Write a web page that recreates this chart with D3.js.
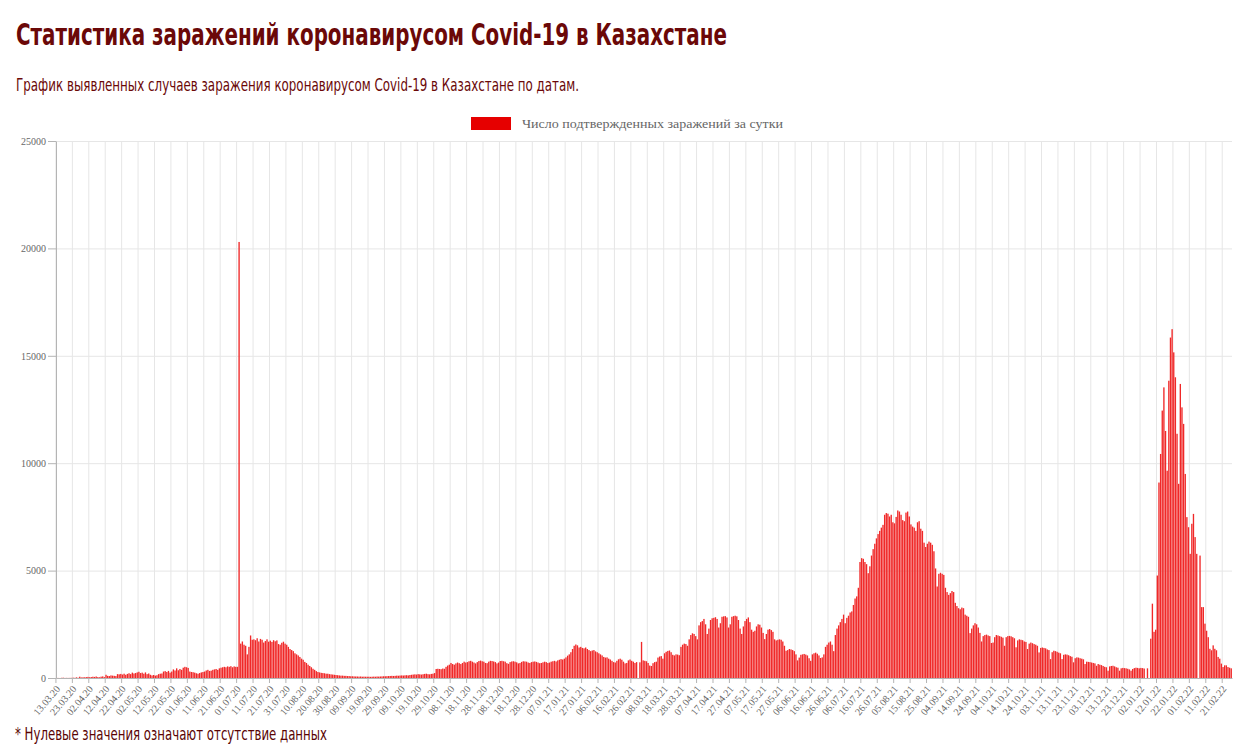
<!DOCTYPE html>
<html lang="ru">
<head>
<meta charset="utf-8">
<title>Статистика заражений коронавирусом Covid-19 в Казахстане</title>
<style>
body {
  margin: 0;
  overflow: hidden;
  background: #fff;
}
.axis text {
  font-family: "Liberation Serif", "Times New Roman", serif;
  font-size: 10px;
  fill: #666;
}
.axis .domain { stroke: #b4b4b4; }
.axis .tick line { stroke: #b4b4b4; }
.grid .tick line { stroke: #e6e6e6; }
.grid .domain { display: none; }
</style>
<script src="https://d3js.org/d3.v7.min.js"></script>
</head>
<body>
<svg id="chart"></svg>
<script>
var startDate = "13.03.20";

// daily confirmed cases, 13.03.20 - 31.12.20
var cases2020 = [
  6, 3, 1, 9, 13, 4, 6, 4, 7, 7,
  16, 8, 30, 10, 60, 25, 35, 32, 40, 52,
  35, 44, 60, 50, 70, 42, 35, 62, 75, 40,
  150, 100, 90, 120, 110, 100, 90, 180, 170, 190,
  160, 200, 150, 190, 220, 180, 250, 210, 230, 260,
  290, 230, 250, 200, 260, 180, 210, 150, 120, 140,
  110, 130, 180, 200, 210, 300, 320, 280, 330, 250,
  300, 400, 350, 450, 360, 420, 380, 480, 520, 500,
  470, 300, 280, 270, 250, 220, 200, 230, 260, 280,
  300, 350, 380, 330, 340, 380, 400, 420, 380, 450,
  480, 500, 520, 500, 540, 520, 550, 500, 540, 520,
  520, 20300, 1600, 1700, 1550, 1500, 1100, 1450, 1980, 1780,
  1800, 1760, 1850, 1700, 1820, 1780, 1650, 1720, 1800, 1690,
  1740, 1680, 1760, 1710, 1750, 1580, 1550, 1640, 1690, 1600,
  1550, 1450, 1350, 1300, 1250, 1150, 1100, 1050, 980, 900,
  850, 750, 700, 620, 560, 500, 430, 380, 320, 280,
  260, 240, 230, 220, 200, 200, 180, 170, 160, 150,
  140, 130, 120, 110, 110, 100, 100, 90, 90, 80,
  80, 75, 70, 70, 65, 70, 60, 65, 60, 60,
  60, 55, 60, 65, 60, 70, 65, 70, 75, 80,
  80, 85, 90, 95, 100, 95, 100, 110, 105, 115,
  120, 115, 125, 130, 120, 140, 150, 160, 170, 160,
  180, 170, 160, 175, 190, 200, 180, 170, 190, 200,
  230, 420, 430, 420, 410, 440, 430, 520, 580, 620,
  700, 650, 620, 680, 720, 690, 650, 700, 760, 720,
  740, 780, 800, 760, 720, 680, 740, 790, 810, 780,
  760, 700, 690, 760, 800, 790, 770, 740, 680, 720,
  790, 800, 780, 760, 690, 660, 740, 770, 780, 760,
  730, 680, 700, 750, 780, 770, 760, 720, 700, 740,
  760, 770, 750, 720
];

// 01.01.21 - 31.12.21
var cases2021 = [
  690, 700, 730, 760, 740, 700,
  720, 760, 780, 800, 770, 820, 850, 880, 860, 900,
  960, 1040, 1100, 1200, 1350, 1500, 1560, 1520, 1420, 1450,
  1400, 1380, 1420, 1350, 1300, 1250, 1280, 1300, 1240, 1200,
  1150, 1100, 1050, 980, 950, 960, 900, 860, 800, 740,
  720, 800, 870, 900, 850, 760, 680, 700, 820, 860,
  800, 760, 700, 740, 0, 730, 1680, 820, 800, 780,
  700, 580, 560, 690, 740, 760, 950, 1000, 1020, 900,
  1150, 1220, 1260, 1280, 1200, 1080, 1050, 1100, 1090, 1060,
  1450, 1550, 1600, 1580, 1500, 1800, 2000, 2080, 2050, 1950,
  1800, 2450, 2600, 2650, 2750, 2500, 2050, 2300, 2700, 2780,
  2800, 2830, 2750, 2350, 2550, 2850, 2870, 2880, 2820, 2350,
  2500, 2850, 2880, 2900, 2870, 2700, 2300, 2050, 2400, 2650,
  2750, 2820, 2600, 2250, 2150, 2200, 2400, 2500, 2480, 2350,
  2100, 1810, 2050, 2250, 2280, 2230, 2150, 1800, 1750, 1780,
  1800, 1780, 1700, 1500, 1270, 1300, 1350, 1330, 1300, 1250,
  1100, 820, 950, 1080, 1100, 1120, 1090, 1050, 920, 800,
  1100, 1150, 1180, 1130, 1050, 930, 960, 1100, 1450, 1550,
  1650, 1700, 1550, 1250, 2000, 2300, 2450, 2600, 2750, 2950,
  2550, 2800, 2900, 3050, 3100, 3400, 3700, 3800, 4200, 5400,
  5580, 5550, 5400, 5300, 4880, 5200, 5700, 6000, 6250, 6500,
  6700, 6850, 7000, 7130, 7600, 7680, 7650, 7520, 7600, 7250,
  7200, 7500, 7800, 7750, 7600, 7350, 7300, 7700, 7750, 7520,
  7150, 7050, 7000, 6850, 7250, 7300, 6950, 6850, 6300, 6100,
  6250, 6350, 6300, 6200, 5900, 5100, 4260, 4850, 4900, 4850,
  4800, 4200, 4000, 3870, 3950, 4050, 4000, 3500, 3350, 3250,
  3200, 3280, 3250, 2950, 2900, 2850, 2090, 2300, 2450, 2550,
  2500, 2350, 2100, 1700, 1950, 2000, 2020, 1980, 1950, 1630,
  1650, 1900, 2000, 1980, 1950, 1920, 1880, 1500, 1900, 1950,
  1960, 1940, 1900, 1850, 1430, 1750, 1800, 1780, 1760, 1700,
  1680, 1350, 1600, 1650, 1620, 1580, 1550, 1500, 1190, 1400,
  1420, 1400, 1380, 1330, 1300, 880, 1200, 1270, 1250, 1220,
  1180, 1150, 880, 1080, 1100, 1090, 1060, 1020, 990, 730,
  920, 960, 950, 920, 900, 870, 650, 760, 750, 740,
  720, 700, 680, 570, 650, 620, 600, 560, 520, 500,
  340, 540, 560, 570, 540, 500, 480, 340, 450, 470,
  460, 450, 430, 400, 340, 420, 460, 480, 470
];

// 01.01.22 - 26.02.22
var cases2022 = [
  450,
  470, 460, 440, 0, 450, 0, 1830, 3460, 2150, 2250,
  4770, 9100, 10430, 12450, 13530, 11500, 9650, 13840, 15850, 16240,
  15160, 14000, 11370, 9040, 13690, 12600, 11830, 9500, 7490, 7020,
  5780, 7180, 7640, 6560, 5780, 0, 5700, 3300, 3300, 2530,
  2200, 1900, 1360, 1290, 1520, 1360, 1290, 980, 900, 670,
  510, 590, 590, 510, 480, 450
];

var yTicks = [0, 5000, 10000, 15000, 20000, 25000];
var labelEvery = 10;

var title = "Статистика заражений коронавирусом Covid-19 в Казахстане";
var subtitle = "График выявленных случаев заражения коронавирусом Covid-19 в Казахстане по датам.";
var legendLabel = "Число подтвержденных заражений за сутки";
var footnote = "* Нулевые значения означают отсутствие данных";

var W = 1249, H = 748;
var plotLeft = 56, plotRight = 1232, plotTop = 141, plotBottom = 678;

var values = cases2020.concat(cases2021, cases2022);
var parse = d3.timeParse("%d.%m.%y");
var fmt = d3.timeFormat("%d.%m.%y");
var start = parse(startDate);
var dates = values.map(function(v, i) { return d3.timeDay.offset(start, i); });

var svg = d3.select('#chart').attr('width', W).attr('height', H);

var x = d3.scaleBand()
  .domain(d3.range(values.length))
  .range([plotLeft, plotRight])
  .paddingInner(0.18)
  .paddingOuter(0.05);

var y = d3.scaleLinear()
  .domain([0, 25000])
  .range([plotBottom, plotTop]);

var tickIdx = d3.range(values.length).filter(function(i) { return i % labelEvery === 0; });

// ticks sit on the left edge of each labelled day
function tickPos(i) {
  return 'translate(' + (x(i) - x.step() * x.paddingInner() / 2) + ',0)';
}

// grid
svg.append('g')
  .attr('class', 'grid')
  .attr('transform', 'translate(' + plotLeft + ',0)')
  .call(d3.axisLeft(y).tickValues(yTicks).tickSize(-(plotRight - plotLeft)).tickFormat(''));

svg.append('g')
  .attr('class', 'grid')
  .attr('transform', 'translate(0,' + plotBottom + ')')
  .call(d3.axisBottom(x).tickValues(tickIdx).tickSize(-(plotBottom - plotTop)).tickFormat(''))
  .selectAll('.tick')
  .attr('transform', tickPos);

// bars
svg.append('g')
  .selectAll('rect')
  .data(values)
  .enter().append('rect')
  .attr('x', function(d, i) { return x(i); })
  .attr('width', x.bandwidth())
  .attr('y', function(d) { return y(d); })
  .attr('height', function(d) { return plotBottom - y(d); })
  .attr('fill', '#f02828');

// axes
svg.append('g')
  .attr('class', 'axis')
  .attr('transform', 'translate(' + plotLeft + ',0)')
  .call(d3.axisLeft(y).tickValues(yTicks).tickSize(8).tickSizeOuter(0).tickPadding(2).tickFormat(d3.format('d')));

var xAxis = svg.append('g')
  .attr('class', 'axis')
  .attr('transform', 'translate(0,' + plotBottom + ')')
  .call(d3.axisBottom(x).tickValues(tickIdx).tickSize(5).tickSizeOuter(0).tickFormat(function(i) { return fmt(dates[i]); }));

xAxis.selectAll('.tick')
  .attr('transform', tickPos);

xAxis.selectAll('.tick text')
  .attr('x', 0)
  .attr('y', 0)
  .attr('dy', '0.35em')
  .attr('text-anchor', 'end')
  .attr('transform', 'translate(2,9) rotate(-50)');

// legend
svg.append('rect')
  .attr('x', 471).attr('y', 117)
  .attr('width', 40).attr('height', 13)
  .attr('fill', '#e60000');

svg.append('text')
  .attr('x', 522).attr('y', 128)
  .attr('textLength', 261)
  .attr('lengthAdjust', 'spacingAndGlyphs')
  .style('font-family', '"Liberation Serif", "Times New Roman", serif')
  .style('font-size', '13px')
  .style('fill', '#666')
  .text(legendLabel);

// titles
svg.append('text')
  .attr('x', 16).attr('y', 45)
  .attr('textLength', 711)
  .attr('lengthAdjust', 'spacingAndGlyphs')
  .style('font-family', '"Liberation Sans Narrow", "DejaVu Sans Condensed", "Roboto", sans-serif')
  .style('font-weight', 'bold')
  .style('font-size', '30px')
  .style('fill', '#6b0808')
  .text(title);

svg.append('text')
  .attr('x', 16).attr('y', 91)
  .attr('textLength', 563)
  .attr('lengthAdjust', 'spacingAndGlyphs')
  .style('font-family', '"Liberation Sans Narrow", "DejaVu Sans Condensed", "Roboto", sans-serif')
  .style('font-size', '17px')
  .style('fill', '#6b0808')
  .text(subtitle);

svg.append('text')
  .attr('x', 15).attr('y', 740)
  .attr('textLength', 312)
  .attr('lengthAdjust', 'spacingAndGlyphs')
  .style('font-family', '"Liberation Sans Narrow", "DejaVu Sans Condensed", "Roboto", sans-serif')
  .style('font-size', '17px')
  .style('fill', '#5a0404')
  .text(footnote);
</script>
</body>
</html>
